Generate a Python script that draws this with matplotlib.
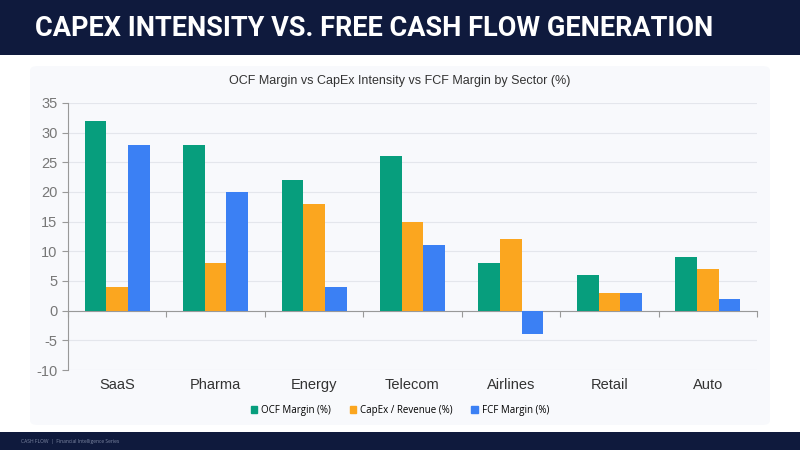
import matplotlib.pyplot as plt
import matplotlib.patches as mpatches
import numpy as np

sectors = ["SaaS", "Pharma", "Energy", "Telecom", "Airlines", "Retail", "Auto"]
ocf_margin = [32, 28, 22, 26, 8, 6, 9]
capex_rev = [4, 8, 18, 15, 12, 3, 7]
fcf_margin = [28, 20, 4, 11, -4, 3, 2]
series_names = ["OCF Margin (%)", "CapEx / Revenue (%)", "FCF Margin (%)"]
colors = ["#079e7d", "#fba61f", "#3b80f4"]

plt.rcParams["axes.unicode_minus"] = False
navy = "#0f1a3d"
fig = plt.figure(figsize=(8, 4.5), dpi=100)
fig.patch.set_facecolor("white")

# header, card and footer
fig.add_artist(mpatches.Rectangle((0, 1 - 55 / 450), 1, 55 / 450, transform=fig.transFigure,
                                  facecolor=navy, edgecolor="none", zorder=0))
fig.add_artist(mpatches.FancyBboxPatch((30 / 800, 1 - 425 / 450), 740 / 800, 359 / 450,
                                       boxstyle="round,pad=0,rounding_size=0.01",
                                       transform=fig.transFigure, facecolor="#f8f9fc",
                                       edgecolor="none", zorder=0))
fig.add_artist(mpatches.Rectangle((0, 0), 1, 18 / 450, transform=fig.transFigure,
                                  facecolor=navy, edgecolor="none", zorder=0))
fig.text(35 / 800, 1 - 28 / 450, "CAPEX INTENSITY VS. FREE CASH FLOW GENERATION",
         color="white", fontsize=19.5, fontweight="bold", family="Roboto", va="center")
fig.text(21 / 800, 9 / 450, "CASH FLOW  |  Financial Intelligence Series",
         color="#7d87a3", fontsize=3.6, family="Open Sans", va="center")
fig.text(0.5, 1 - 81 / 450, "OCF Margin vs CapEx Intensity vs FCF Margin by Sector (%)",
         color="#333333", fontsize=9, family="Liberation Sans", ha="center", va="center")

ax = fig.add_axes([68 / 800, 1 - 370 / 450, 689 / 800, 267 / 450])
ax.set_facecolor("none")

x = np.arange(len(sectors))
w = 0.22
for i, (vals, name, c) in enumerate(zip([ocf_margin, capex_rev, fcf_margin], series_names, colors)):
    ax.bar(x + (i - 1) * w, vals, width=w, color=c, label=name, zorder=3)

ax.set_xlim(-0.5, len(sectors) - 0.5)
ax.set_ylim(-10, 35)
ax.set_yticks(range(-10, 36, 5))
ax.grid(axis="y", color="#e4e6ec", linewidth=0.8, zorder=0)
for s in ["top", "right"]:
    ax.spines[s].set_visible(False)
ax.spines["left"].set_color("#999999")
ax.spines["bottom"].set_position(("data", 0))
ax.spines["bottom"].set_color("#999999")
ax.tick_params(axis="y", colors="#999999", length=4, labelcolor="#777777", labelsize=10.5)
ax.set_xticks(np.arange(len(sectors) + 1) - 0.5)
ax.set_xticklabels([])
ax.tick_params(axis="x", colors="#999999", length=4, direction="out")
for lab in ax.get_yticklabels():
    lab.set_family("Liberation Sans")

for xi, name in zip(x, sectors):
    ax.text(xi, -0.055, name, transform=ax.get_xaxis_transform(), ha="center", va="center",
            fontsize=10.5, color="#333333", family="Liberation Sans")

handles = [mpatches.Patch(color=c, label=n) for c, n in zip(colors, series_names)]
fig.legend(handles=handles, loc="center", bbox_to_anchor=(0.5, 1 - 410 / 450), ncol=3,
           frameon=False, prop={"family": "Open Sans", "size": 7},
           handlelength=0.7, handleheight=0.7, handletextpad=0.4, columnspacing=1.9)

fig.savefig("out.png", dpi=100)
